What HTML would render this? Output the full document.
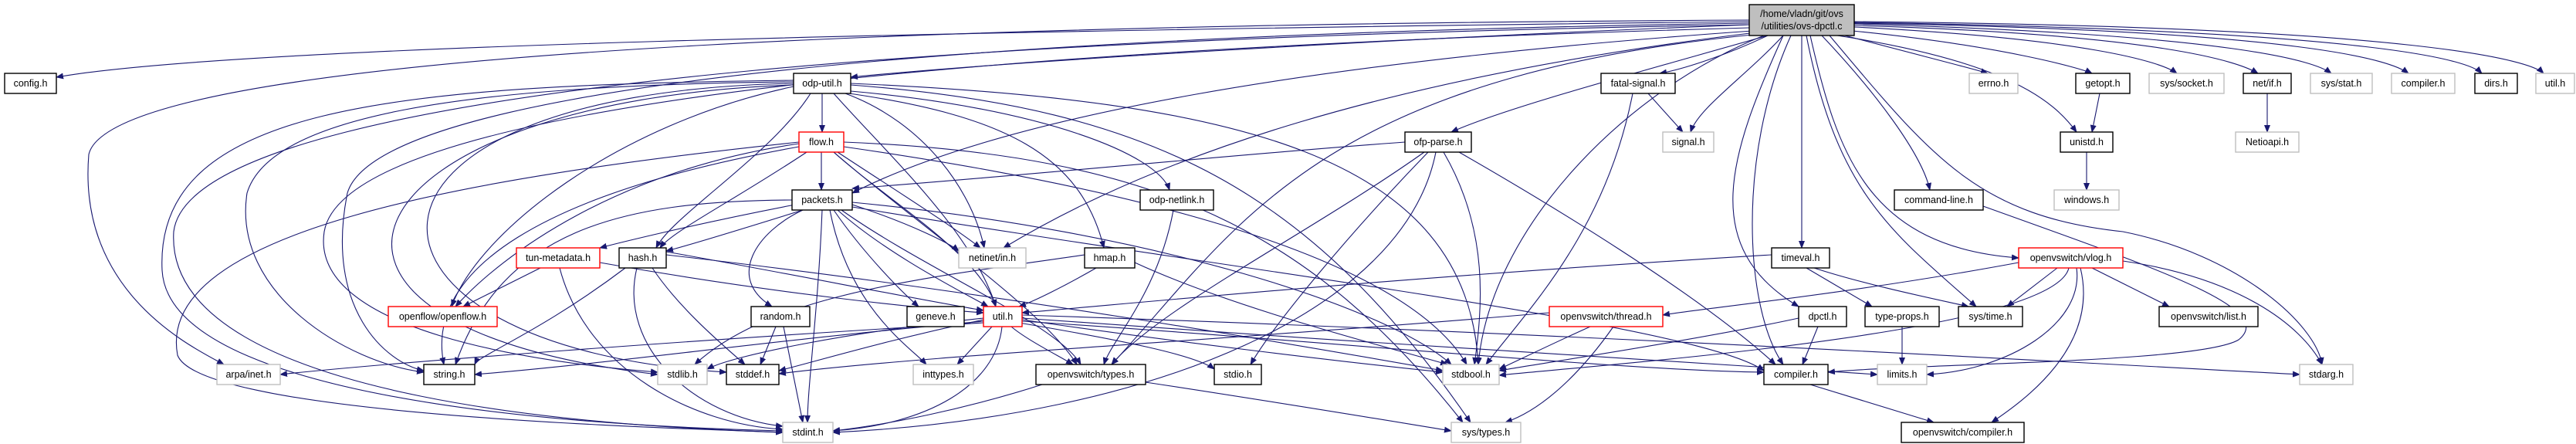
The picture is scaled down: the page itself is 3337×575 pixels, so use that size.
<!DOCTYPE html>
<html><head><meta charset="utf-8"><style>
html,body{margin:0;padding:0;background:#fff;width:3337px;height:575px;overflow:hidden}
svg{display:block}
text{font-family:"Liberation Sans",sans-serif;font-size:12.5px;fill:#000}
.e{fill:none;stroke:#191970;stroke-width:1.1}
.b{fill:#fff;stroke:#000;stroke-width:1.4}
.g{fill:#fff;stroke:#bfbfbf;stroke-width:1.4}
.r{fill:#fff;stroke:#ff0000;stroke-width:1.4}
</style></head><body>
<svg width="3337" height="575" viewBox="0 0 3337 575" xmlns="http://www.w3.org/2000/svg">
<defs><marker id="a" markerWidth="10" markerHeight="8" refX="9" refY="4" orient="auto" markerUnits="userSpaceOnUse"><polygon points="0,0 10,4 0,8" fill="#191970"/></marker></defs>
<g class="e" marker-end="url(#a)">
<!-- root -->
<path d="M2266,28 C1200,40 300,60 73,100"/>
<path d="M2266,32 C1800,50 1300,80 1102,100"/>
<path d="M2290,46 C2240,70 2180,90 2150,95"/>
<path d="M2390,46 C2480,70 2560,90 2575,95"/>
<path d="M2400,40 C2600,60 2700,90 2710,95"/>
<path d="M2402,35 C2700,50 2800,80 2820,95"/>
<path d="M2402,33 C2800,45 2900,80 2925,95"/>
<path d="M2402,31 C2900,45 3000,80 3020,95"/>
<path d="M2402,30 C3000,40 3100,80 3120,95"/>
<path d="M2402,29 C3100,40 3200,80 3215,95"/>
<path d="M2402,28 C3150,35 3280,80 3295,95"/>
<path d="M2380,46 C2600,80 2660,130 2690,171"/>
<path d="M2360,46 C2430,120 2490,200 2500,246"/>
<path d="M2334,46 L2334,321"/>
<path d="M2310,46 C2240,200 2200,320 2330,397"/>
<path d="M2340,46 C2380,250 2450,300 2560,397"/>
<path d="M2345,46 C2380,200 2420,320 2615,334"/>
<path d="M2370,46 C2500,200 2560,280 2750,300 C2900,330 3000,420 3008,472"/>
<path d="M2290,46 C2100,100 1950,140 1880,171"/>
<path d="M2310,46 C2260,100 2200,140 2190,171"/>
<path d="M2285,46 C2100,120 1930,300 1915,472"/>
<path d="M2270,40 C1700,80 1300,150 1104,250"/>
<path d="M2275,42 C1800,100 1500,200 1300,321"/>
<path d="M2280,44 C1700,100 1600,300 1440,472"/>
<path d="M2266,30 C1600,40 500,80 450,250 C420,400 500,470 549,480"/>
<path d="M2266,36 C1400,60 450,120 420,300 C400,430 700,470 852,482"/>
<path d="M2266,26 C1500,30 150,50 115,200 C100,380 250,450 290,472"/>
<path d="M2266,32 C1500,45 250,90 225,300 C210,540 900,555 1014,560"/>
<path d="M2320,46 C2250,200 2260,400 2310,472"/>
<!-- odp-util -->
<path d="M1065,121 L1065,171"/>
<path d="M1050,121 C1000,200 870,280 850,321"/>
<path d="M1080,121 C1150,200 1260,300 1290,397"/>
<path d="M1028,112 C800,160 620,300 585,397"/>
<path d="M1028,106 C600,110 350,150 320,250 C300,380 450,470 549,482"/>
<path d="M1028,104 C500,110 200,140 210,350 C220,540 900,555 1014,558"/>
<path d="M1102,108 C1600,130 1900,200 1915,472"/>
<path d="M1095,121 C1200,160 1260,250 1275,321"/>
<path d="M1100,121 C1300,150 1400,200 1430,321"/>
<path d="M1102,118 C1350,140 1500,200 1515,246"/>
<path d="M1102,110 C1500,140 1700,250 1905,547"/>
<path d="M1028,108 C400,120 420,450 941,482"/>
<path d="M1028,110 C450,130 300,420 852,485"/>
<!-- flow -->
<path d="M1064,197 L1064,246"/>
<path d="M1045,197 C950,260 870,300 855,321"/>
<path d="M1080,197 C1150,260 1270,330 1290,397"/>
<path d="M1035,186 C800,220 650,330 590,397"/>
<path d="M1035,190 C700,250 550,350 575,472"/>
<path d="M1035,184 C600,230 200,300 230,460 C260,540 900,555 1014,560"/>
<path d="M1085,197 C1150,240 1230,290 1270,321"/>
<path d="M1093,190 C1300,220 1800,300 1900,472"/>
<path d="M1093,184 C1500,200 1700,300 1895,547"/>
<path d="M1080,197 C1200,300 1350,400 1395,472"/>
<!-- packets -->
<path d="M1030,265 C900,290 800,315 777,321"/>
<path d="M1040,272 C950,300 880,321 863,325"/>
<path d="M1104,265 C1180,290 1230,315 1242,325"/>
<path d="M1085,272 C1150,330 1250,380 1280,397"/>
<path d="M1080,272 C1120,330 1170,380 1190,397"/>
<path d="M1040,272 C980,300 940,360 1000,397"/>
<path d="M1065,272 C1060,400 1046,500 1046,547"/>
<path d="M1075,272 C1100,400 1180,450 1200,472"/>
<path d="M1026,259 C800,260 650,300 590,472"/>
<path d="M1090,272 C1200,350 1370,420 1400,472"/>
<path d="M1104,262 C1500,300 1800,400 1880,472"/>
<path d="M1104,268 C1600,350 2200,420 2285,480"/>
<!-- tun-metadata -->
<path d="M700,347 L600,397"/>
<path d="M725,347 C760,480 900,550 1014,556"/>
<path d="M777,340 C1000,380 1200,400 1274,405"/>
<!-- hash -->
<path d="M863,326 C1000,350 1200,390 1274,402"/>
<path d="M810,347 C700,430 620,460 615,472"/>
<path d="M825,347 C800,450 900,540 1014,552"/>
<path d="M845,347 C880,400 940,450 965,472"/>
<path d="M863,330 C1300,380 1700,450 1869,480"/>
<!-- random -->
<path d="M1005,423 L985,472"/>
<path d="M1015,423 L1040,547"/>
<!-- hmap -->
<path d="M1420,347 C1380,370 1340,390 1320,397"/>
<path d="M1470,340 C1600,400 1800,450 1875,472"/>
<path d="M1405,330 C1200,360 1000,380 900,472"/>
<path d="M1520,272 C1500,380 1440,440 1430,472"/>
<!-- util -->
<path d="M1285,423 L1240,472"/>
<path d="M1310,423 C1330,440 1370,460 1390,472"/>
<path d="M1320,418 C1450,440 1550,460 1573,478"/>
<path d="M1324,414 C1500,440 1750,470 1869,482"/>
<path d="M1298,423 C1290,500 1200,550 1079,558"/>
<path d="M1274,416 C1000,440 800,470 615,485"/>
<path d="M1274,414 C1150,440 1050,470 1009,480"/>
<path d="M1274,412 C1100,430 950,460 916,478"/>
<path d="M1274,418 C900,440 500,470 363,485"/>
<path d="M1324,412 C1700,440 2200,470 2432,485"/>
<path d="M1324,408 C2000,430 2700,470 2979,485"/>
<path d="M1324,416 C1700,440 2100,480 2285,482"/>
<!-- ovs/types -->
<path d="M1350,498 C1250,530 1150,550 1079,558"/>
<path d="M1484,495 C1650,520 1800,545 1880,558"/>
<!-- ofp-parse -->
<path d="M1820,184 C1600,200 1300,230 1104,244"/>
<path d="M1860,197 C1820,400 1500,540 1079,560"/>
<path d="M1845,197 C1700,300 1500,400 1440,472"/>
<path d="M1850,197 C1750,300 1650,420 1620,472"/>
<path d="M1870,197 C1930,300 1920,400 1910,472"/>
<path d="M1890,197 C2000,260 2200,380 2300,472"/>
<!-- fatal-signal -->
<path d="M2135,121 L2180,171"/>
<path d="M2115,121 C2080,300 1980,400 1925,472"/>
<!-- thread -->
<path d="M2060,423 C2000,450 1960,470 1942,478"/>
<path d="M2090,423 C2050,480 2000,530 1950,547"/>
<path d="M2007,405 C1600,440 1200,460 1009,484"/>
<!-- timeval -->
<path d="M2295,330 C1800,360 1500,390 1324,405"/>
<path d="M2350,347 C2420,370 2520,390 2550,397"/>
<path d="M2340,347 L2425,397"/>
<!-- vlog -->
<path d="M2615,340 C2400,380 2200,400 2154,408"/>
<path d="M2665,347 L2600,397"/>
<path d="M2710,347 L2810,397"/>
<path d="M2750,338 C2900,360 2980,420 3008,472"/>
<path d="M2690,347 C2700,420 2600,480 2496,485"/>
<path d="M2695,347 C2720,450 2620,520 2580,547"/>
<path d="M2680,347 C2660,430 2100,470 1942,486"/>
<!-- misc -->
<path d="M2355,423 L2335,472"/>
<path d="M2330,412 C2200,440 2000,470 1942,480"/>
<path d="M2464,423 L2464,472"/>
<path d="M2345,498 L2505,547"/>
<path d="M2720,121 L2710,171"/>
<path d="M2703,197 L2703,246"/>
<path d="M2937,121 L2937,171"/>
<path d="M2569,267 C2800,350 2950,400 2900,440 C2850,470 2500,470 2368,482"/>
</g>
<!-- nodes -->
<g>
<rect x="2266" y="6" width="136" height="40" fill="#bfbfbf" stroke="#000" stroke-width="1.4"/>
<text x="2334" y="22" text-anchor="middle">/home/vladn/git/ovs</text>
<text x="2334" y="38" text-anchor="middle">/utilities/ovs-dpctl.c</text>

<rect class="b" x="6" y="95" width="67" height="26"/><text x="39.5" y="112" text-anchor="middle">config.h</text>
<rect class="b" x="1028" y="95" width="74" height="26"/><text x="1065" y="112" text-anchor="middle">odp-util.h</text>
<rect class="b" x="2074" y="95" width="96" height="26"/><text x="2122" y="112" text-anchor="middle">fatal-signal.h</text>
<rect class="g" x="2551" y="95" width="63" height="26"/><text x="2582.5" y="112" text-anchor="middle">errno.h</text>
<rect class="b" x="2689" y="95" width="70" height="26"/><text x="2724" y="112" text-anchor="middle">getopt.h</text>
<rect class="g" x="2784" y="95" width="97" height="26"/><text x="2832.5" y="112" text-anchor="middle">sys/socket.h</text>
<rect class="b" x="2906" y="95" width="62" height="26"/><text x="2937" y="112" text-anchor="middle">net/if.h</text>
<rect class="g" x="2993" y="95" width="80" height="26"/><text x="3033" y="112" text-anchor="middle">sys/stat.h</text>
<rect class="g" x="3098" y="95" width="82" height="26"/><text x="3139" y="112" text-anchor="middle">compiler.h</text>
<rect class="b" x="3206" y="95" width="55" height="26"/><text x="3233.5" y="112" text-anchor="middle">dirs.h</text>
<rect class="g" x="3285" y="95" width="50" height="26"/><text x="3310" y="112" text-anchor="middle">util.h</text>

<rect class="r" x="1035" y="171" width="58" height="26"/><text x="1064" y="188" text-anchor="middle">flow.h</text>
<rect class="b" x="1820" y="171" width="86" height="26"/><text x="1863" y="188" text-anchor="middle">ofp-parse.h</text>
<rect class="g" x="2154" y="171" width="66" height="26"/><text x="2187" y="188" text-anchor="middle">signal.h</text>
<rect class="b" x="2669" y="171" width="68" height="26"/><text x="2703" y="188" text-anchor="middle">unistd.h</text>
<rect class="g" x="2896" y="171" width="82" height="26"/><text x="2937" y="188" text-anchor="middle">Netioapi.h</text>

<rect class="b" x="1026" y="246" width="78" height="26"/><text x="1065" y="263" text-anchor="middle">packets.h</text>
<rect class="b" x="1477" y="246" width="95" height="26"/><text x="1524.5" y="263" text-anchor="middle">odp-netlink.h</text>
<rect class="b" x="2454" y="246" width="115" height="26"/><text x="2511.5" y="263" text-anchor="middle">command-line.h</text>
<rect class="g" x="2661" y="246" width="84" height="26"/><text x="2703" y="263" text-anchor="middle">windows.h</text>

<rect class="r" x="669" y="321" width="108" height="26"/><text x="723" y="338" text-anchor="middle">tun-metadata.h</text>
<rect class="b" x="802" y="321" width="61" height="26"/><text x="832.5" y="338" text-anchor="middle">hash.h</text>
<rect class="g" x="1242" y="321" width="87" height="26"/><text x="1285.5" y="338" text-anchor="middle">netinet/in.h</text>
<rect class="b" x="1405" y="321" width="65" height="26"/><text x="1437.5" y="338" text-anchor="middle">hmap.h</text>
<rect class="b" x="2295" y="321" width="75" height="26"/><text x="2332.5" y="338" text-anchor="middle">timeval.h</text>
<rect class="r" x="2615" y="321" width="135" height="26"/><text x="2682.5" y="338" text-anchor="middle">openvswitch/vlog.h</text>

<rect class="r" x="503" y="397" width="141" height="26"/><text x="573.5" y="414" text-anchor="middle">openflow/openflow.h</text>
<rect class="b" x="973" y="397" width="76" height="26"/><text x="1011" y="414" text-anchor="middle">random.h</text>
<rect class="b" x="1175" y="397" width="74" height="26"/><text x="1212" y="414" text-anchor="middle">geneve.h</text>
<rect class="r" x="1274" y="397" width="50" height="26"/><text x="1299" y="414" text-anchor="middle">util.h</text>
<rect class="r" x="2007" y="397" width="147" height="26"/><text x="2080.5" y="414" text-anchor="middle">openvswitch/thread.h</text>
<rect class="b" x="2330" y="397" width="62" height="26"/><text x="2361" y="414" text-anchor="middle">dpctl.h</text>
<rect class="b" x="2416" y="397" width="96" height="26"/><text x="2464" y="414" text-anchor="middle">type-props.h</text>
<rect class="b" x="2537" y="397" width="83" height="26"/><text x="2578.5" y="414" text-anchor="middle">sys/time.h</text>
<rect class="b" x="2797" y="397" width="128" height="26"/><text x="2861" y="414" text-anchor="middle">openvswitch/list.h</text>

<rect class="g" x="281" y="472" width="82" height="26"/><text x="322" y="489" text-anchor="middle">arpa/inet.h</text>
<rect class="b" x="549" y="472" width="66" height="26"/><text x="582" y="489" text-anchor="middle">string.h</text>
<rect class="g" x="852" y="472" width="64" height="26"/><text x="884" y="489" text-anchor="middle">stdlib.h</text>
<rect class="b" x="941" y="472" width="68" height="26"/><text x="975" y="489" text-anchor="middle">stddef.h</text>
<rect class="g" x="1183" y="472" width="78" height="26"/><text x="1222" y="489" text-anchor="middle">inttypes.h</text>
<rect class="b" x="1342" y="472" width="142" height="26"/><text x="1413" y="489" text-anchor="middle">openvswitch/types.h</text>
<rect class="b" x="1573" y="472" width="61" height="26"/><text x="1603.5" y="489" text-anchor="middle">stdio.h</text>
<rect class="g" x="1869" y="472" width="73" height="26"/><text x="1905.5" y="489" text-anchor="middle">stdbool.h</text>
<rect class="b" x="2285" y="472" width="83" height="26"/><text x="2326.5" y="489" text-anchor="middle">compiler.h</text>
<rect class="g" x="2432" y="472" width="64" height="26"/><text x="2464" y="489" text-anchor="middle">limits.h</text>
<rect class="g" x="2979" y="472" width="69" height="26"/><text x="3013.5" y="489" text-anchor="middle">stdarg.h</text>

<rect class="g" x="1014" y="547" width="65" height="26"/><text x="1046.5" y="564" text-anchor="middle">stdint.h</text>
<rect class="g" x="1880" y="547" width="90" height="26"/><text x="1925" y="564" text-anchor="middle">sys/types.h</text>
<rect class="b" x="2463" y="547" width="159" height="26"/><text x="2542.5" y="564" text-anchor="middle">openvswitch/compiler.h</text>
</g>
</svg>
</body></html>
